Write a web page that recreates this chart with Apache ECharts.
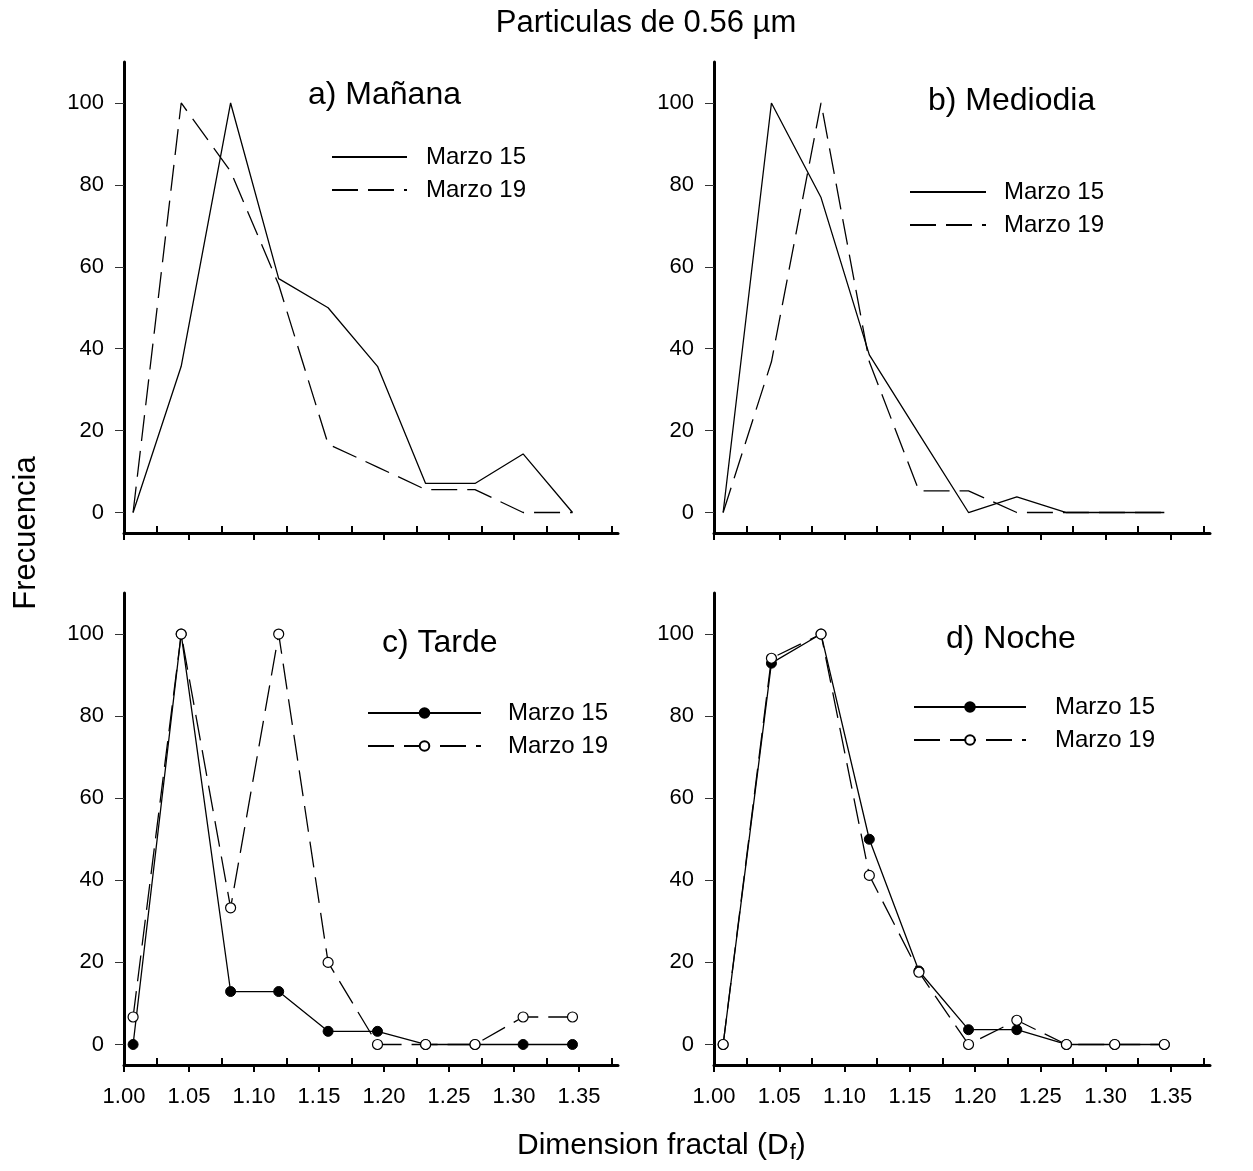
<!DOCTYPE html>
<html><head><meta charset="utf-8">
<script src="https://cdn.jsdelivr.net/npm/echarts@6/dist/echarts.min.js"></script>
<style>html,body{margin:0;padding:0;background:#fff}#c{width:1253px;height:1171px}</style>
</head><body><div id="c"></div>
<script>
// ---- data ----
const dfBins = [1.007, 1.044, 1.082, 1.119, 1.157, 1.195, 1.232, 1.270, 1.307, 1.345];
const xMajorTicks = [1.00, 1.05, 1.10, 1.15, 1.20, 1.25, 1.30, 1.35];
const xMinorTicks = [1.025, 1.075, 1.125, 1.175, 1.225, 1.275, 1.325, 1.375];
const yTicks = [0, 20, 40, 60, 80, 100];
const manana15   = [0, 35.7, 100, 57.1, 50, 35.7, 7.1, 7.1, 14.3, 0];
const manana19   = [0, 100, 83.3, 55.6, 16.7, 11.1, 5.6, 5.6, 0, 0];
const mediodia15 = [0, 100, 76.9, 38.5, 19.2, 0, 3.8, 0, 0, 0];
const mediodia19 = [0, 36.8, 100, 36.8, 5.3, 5.3, 0, 0, 0, 0];
const tarde15    = [0, 100, 12.9, 12.9, 3.2, 3.2, 0, 0, 0, 0];
const tarde19    = [6.7, 100, 33.3, 100, 20, 0, 0, 0, 6.7, 6.7];
const noche15    = [0, 92.9, 100, 50, 17.9, 3.6, 3.6, 0, 0, 0];
const noche19    = [0, 94.1, 100, 41.2, 17.6, 0, 5.9, 0, 0, 0];
const seriesLabels = ['Marzo 15', 'Marzo 19'];
const panelTitles = ['a) Mañana', 'b) Mediodia', 'c) Tarde', 'd) Noche'];
const mainTitle = 'Particulas de 0.56 \u00b5m';
const yTitle = 'Frecuencia';

// ---- layout ----
const FONT = '"Liberation Sans", Arial, sans-serif';
const grids = [
  {left: 124, top: 62, width: 494, height: 471},
  {left: 714, top: 62, width: 496, height: 471},
  {left: 124, top: 593, width: 494, height: 472},
  {left: 714, top: 593, width: 496, height: 472}
];
const panelData = [
  [manana15, manana19], [mediodia15, mediodia19], [tarde15, tarde19], [noche15, noche19]
];
const DASH = [26, 10];

const gridOpts = [], xAxes = [], yAxes = [], series = [], legends = [];
// main grids 0..3
grids.forEach((g, i) => {
  gridOpts.push(Object.assign({containLabel: false}, g));
  xAxes.push({
    gridIndex: i, type: 'value', min: 1.0, max: 1.38, position: 'bottom',
    axisLine: {show: true, onZero: false, lineStyle: {color: '#000', width: 3}},
    axisTick: {show: true, inside: false, customValues: xMajorTicks, length: 7, lineStyle: {color: '#000', width: 2}},
    axisLabel: {show: i >= 2, customValues: xMajorTicks, formatter: v => v.toFixed(2),
      fontSize: 22, margin: 21, color: '#000', fontFamily: FONT},
    splitLine: {show: false}
  });
  yAxes.push({
    gridIndex: i, type: 'value', min: -5, max: 110,
    axisLine: {show: true, onZero: false, lineStyle: {color: '#000', width: 3}},
    axisTick: {show: true, customValues: yTicks, length: 9, lineStyle: {color: '#333', width: 1}},
    axisLabel: {customValues: yTicks, fontSize: 22, margin: 20, color: '#000', fontFamily: FONT},
    splitLine: {show: false}
  });
});
// overlay grids 4..7 for the inward minor ticks
grids.forEach((g, i) => {
  gridOpts.push(Object.assign({containLabel: false}, g));
  xAxes.push({
    gridIndex: 4 + i, type: 'value', min: 1.0, max: 1.38, position: 'bottom',
    axisLine: {show: false, onZero: false},
    axisTick: {show: true, inside: true, customValues: xMinorTicks, length: 7, lineStyle: {color: '#000', width: 2}},
    axisLabel: {show: false},
    splitLine: {show: false}
  });
  yAxes.push({gridIndex: 4 + i, type: 'value', min: -5, max: 110, show: false, axisLine: {onZero: false}});
});

const nameMap = {};
panelData.forEach((pair, i) => {
  const withMarkers = i >= 2;
  pair.forEach((arr, k) => {
    const nm = 'p' + i + 's' + k;
    nameMap[nm] = seriesLabels[k];
    series.push({
      name: nm, type: 'line', xAxisIndex: i, yAxisIndex: i,
      data: dfBins.map((x, j) => [x, arr[j]]),
      lineStyle: {color: '#000', width: 1.3, type: k === 0 ? 'solid' : DASH},
      symbol: withMarkers ? 'circle' : 'none',
      symbolSize: 10,
      itemStyle: k === 0 ? {color: '#000', borderColor: '#000', borderWidth: 1}
                         : {color: '#fff', borderColor: '#000', borderWidth: 1.2},
      silent: true, animation: false
    });
  });
});

const legendPos = [
  {left: 331, top: 145, itemWidth: 75, pad: 14, marker: false},
  {left: 909, top: 180, itemWidth: 76, pad: 13, marker: false},
  {left: 367, top: 701, itemWidth: 113, pad: 22, marker: true},
  {left: 913, top: 695, itemWidth: 112, pad: 24, marker: true}
];
legendPos.forEach((lp, i) => {
  const lg = {
    orient: 'vertical', left: lp.left, top: lp.top, padding: 0,
    itemWidth: lp.itemWidth, itemHeight: 12, itemGap: 9,
    selectedMode: false,
    data: ['p' + i + 's0', 'p' + i + 's1'],
    formatter: n => nameMap[n],
    textStyle: {fontSize: 24, lineHeight: 24, color: '#000', fontFamily: FONT, padding: [0, 0, 0, lp.pad]}
  };
  if (!lp.marker) lg.itemStyle = {opacity: 0};
  legends.push(lg);
});

const titlePos = [[308, 95], [928, 101], [382, 643], [946, 639]];
const graphics = panelTitles.map((t, i) => ({
  type: 'text', x: titlePos[i][0], y: titlePos[i][1],
  style: {text: t, fontSize: 32, fontFamily: FONT, fill: '#000', textAlign: 'left', textVerticalAlign: 'middle'}
}));
graphics.push({type: 'text', x: 646, y: 23,
  style: {text: mainTitle, fontSize: 31, fontFamily: FONT, fill: '#000', textAlign: 'center', textVerticalAlign: 'middle'}});
graphics.push({type: 'text', x: 26, y: 533, rotation: Math.PI / 2,
  style: {text: yTitle, fontSize: 31, fontFamily: FONT, fill: '#000', textAlign: 'center', textVerticalAlign: 'middle'}});
graphics.push({type: 'text', x: 517, y: 1146,
  style: {text: '{n|Dimension fractal (D}{s|f}{n|)}', fontFamily: FONT, fill: '#000', textAlign: 'left', textVerticalAlign: 'middle',
    rich: {n: {fontSize: 30, fontFamily: FONT, fill: '#000'}, s: {fontSize: 22, fontFamily: FONT, fill: '#000', padding: [14, 0, 0, 1]}}}});

const chart = echarts.init(document.getElementById('c'), null, {renderer: 'canvas'});
chart.setOption({
  animation: false,
  backgroundColor: '#fff',
  grid: gridOpts,
  xAxis: xAxes, yAxis: yAxes, series: series, legend: legends, graphic: graphics
});
</script></body></html>
